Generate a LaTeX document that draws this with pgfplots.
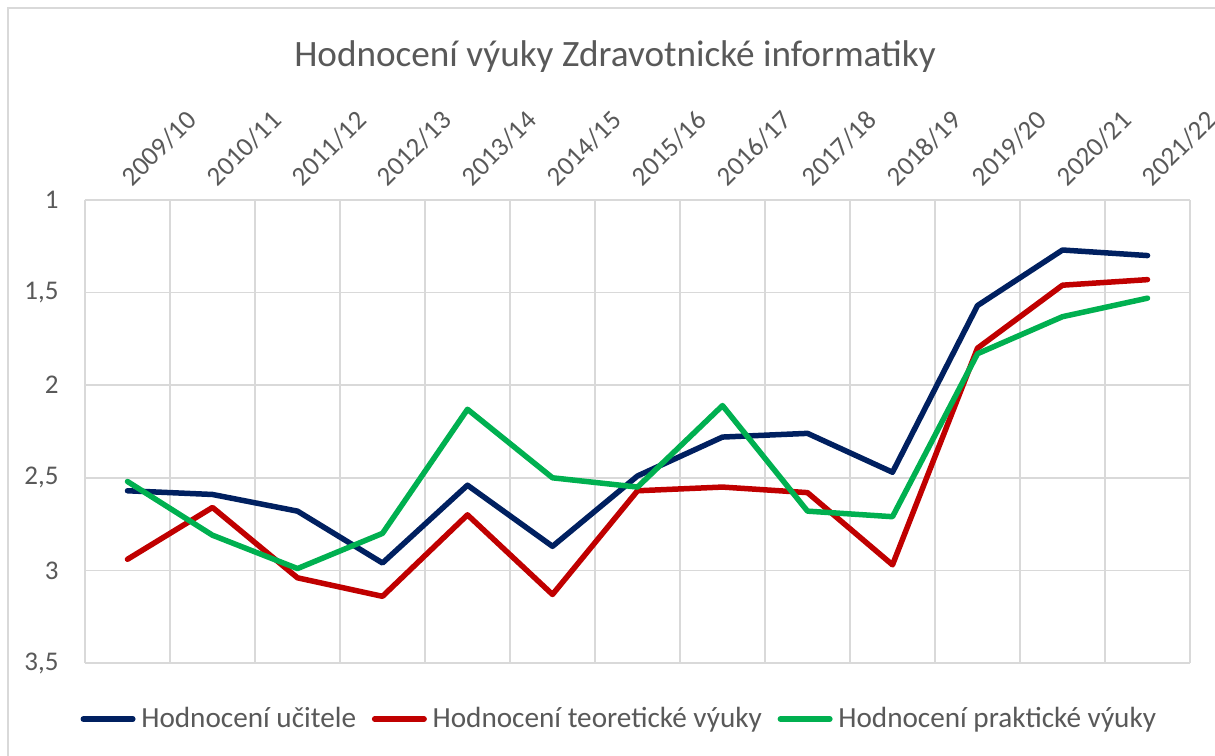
\documentclass[border=0pt]{standalone}
\usepackage{fontspec}
\setmainfont{Carlito}
\usepackage{pgfplots}
\usepackage{pgfplotstable}
\pgfplotsset{compat=1.18}
\definecolor{navyc}{HTML}{002060}
\definecolor{redc}{HTML}{C00000}
\definecolor{greenc}{HTML}{00B050}
\definecolor{gridc}{HTML}{D9D9D9}
\definecolor{txt}{HTML}{595959}
\pgfplotstableread{
x ucitel teor prak
0.5 2.57 2.94 2.52
1.5 2.59 2.66 2.81
2.5 2.68 3.04 2.99
3.5 2.96 3.14 2.80
4.5 2.54 2.70 2.13
5.5 2.87 3.13 2.50
6.5 2.49 2.57 2.55
7.5 2.28 2.55 2.11
8.5 2.26 2.58 2.68
9.5 2.47 2.97 2.71
10.5 1.57 1.80 1.83
11.5 1.27 1.46 1.63
12.5 1.30 1.43 1.53
}\datatable
\begin{document}
\begin{tikzpicture}
\useasboundingbox (0,0) rectangle (607.5pt,377.5pt);
\clip (0,0) rectangle (607.5pt,377.5pt);
\fill[white] (0,0) rectangle (607.5pt,377.5pt);
\draw[gridc, line width=0.75pt] (4pt,-5pt) -- (4pt,373.5pt) -- (615pt,373.5pt);
\node[anchor=base, font=\fontsize{18.6}{22}\selectfont, text=txt, inner sep=0pt] at (307.5pt,344pt) {Hodnocení výuky Zdravotnické informatiky};
\begin{axis}[
  at={(42.5pt,46pt)}, anchor=south west,
  width=552.5pt, height=231.5pt, scale only axis,
  xmin=0, xmax=13, ymin=1, ymax=3.5, y dir=reverse,
  xtick={0.5,1.5,2.5,3.5,4.5,5.5,6.5,7.5,8.5,9.5,10.5,11.5,12.5},
  xticklabels={2009/10,2010/11,2011/12,2012/13,2013/14,2014/15,2015/16,2016/17,2017/18,2018/19,2019/20,2020/21,2021/22},
  minor xtick={0,1,2,3,4,5,6,7,8,9,10,11,12,13},
  xminorgrids=true, xmajorgrids=false, ymajorgrids=true,
  grid style={gridc, line width=0.8pt},
  minor grid style={gridc, line width=0.8pt},
  ytick={1,1.5,2,2.5,3,3.5},
  yticklabels={1,{1,5},2,{2,5},3,{3,5}},
  axis line style={draw=none},
  major tick length=0pt, minor tick length=0pt,
  xticklabel pos=upper,
  /pgf/number format/assume math mode=true,
  tick label style={font=\fontsize{13.5}{16}\selectfont, text=txt},
  xticklabel style={xshift=2.3pt, yshift=6.2pt, rotate=45, anchor=base west, inner sep=0pt},
  yticklabel style={anchor=east, inner sep=0pt, xshift=-13pt},
  legend columns=3,
  legend style={at={(0.4814,-0.121)}, anchor=center, draw=none, fill=none,
    font=\fontsize{14.6}{17}\selectfont, text=txt, inner sep=0pt,
    nodes={inner sep=0pt},
    /tikz/every even column/.append style={column sep=6.5pt}},
  legend image code/.code={\path (0pt,0pt) (29pt,0pt); \draw[#1, line width=2.75pt, line cap=round] (1.375pt,0pt) -- (26.125pt,0pt);},
  every axis plot/.append style={line width=2.75pt, line join=round, line cap=round},
]
\addplot[navyc, mark=none] table[x=x, y=ucitel] {\datatable};
\addlegendentry{Hodnocení učitele}
\addplot[redc, mark=none] table[x=x, y=teor] {\datatable};
\addlegendentry{Hodnocení teoretické výuky}
\addplot[greenc, mark=none] table[x=x, y=prak] {\datatable};
\addlegendentry{Hodnocení praktické výuky}
\end{axis}
\end{tikzpicture}
\end{document}
